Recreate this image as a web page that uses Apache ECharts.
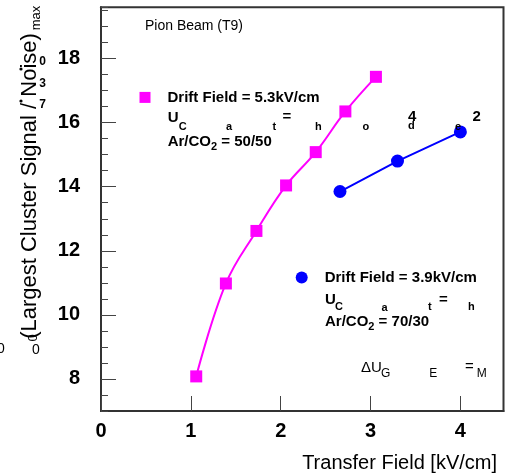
<!DOCTYPE html>
<html>
<head>
<meta charset="utf-8">
<script src="https://cdn.jsdelivr.net/npm/echarts@6/dist/echarts.min.js"></script>
<style>
  html, body { margin: 0; padding: 0; background: #fff; }
  #chart { width: 506px; height: 475px; }
</style>
</head>
<body>
<div id="chart"></div>
<script>
// Transfer field scan, two GEM configurations
const seriesNames = ['Drift Field = 5.3kV/cm', 'Drift Field = 3.9kV/cm'];
const transferA = [1.06, 1.39, 1.73, 2.06, 2.39, 2.72, 3.06];
const snrA      = [8.08, 10.98, 12.62, 14.04, 15.08, 16.35, 17.43];
const transferB = [2.66, 3.30, 4.00];
const snrB      = [13.85, 14.80, 15.71];
const yMajorTicks = [8, 10, 12, 14, 16, 18];

const FONT = '"Liberation Sans", Arial, Helvetica, sans-serif';
const chart = echarts.init(document.getElementById('chart'), null, { renderer: 'canvas' });

const measure = document.createElement('canvas').getContext('2d');
function textWidth(s, size, bold) {
  measure.font = (bold ? 'bold ' : '') + size + 'px ' + FONT;
  return measure.measureText(s).width;
}

function T(x, y, s, size, bold, align, rot) {
  return {
    type: 'text', x: x, y: y, rotation: rot || 0, z: 100,
    style: {
      text: s, fontSize: size, fontWeight: bold ? 'bold' : 'normal',
      fontFamily: FONT, fill: '#000',
      align: align || 'left', verticalAlign: 'middle'
    }
  };
}

// run of text pieces laid out left to right: [text, size, bold, dy]
function run(x, y, parts) {
  const out = [];
  let cx = x;
  parts.forEach(p => {
    out.push(T(cx, y + (p[3] || 0), p[0], p[1], p[2]));
    cx += textWidth(p[0], p[1], p[2]);
  });
  return out;
}

const texts = [].concat(
  [T(145, 26, 'Pion Beam (T9)', 14, false)],
  // first configuration block
  [
    T(167.7, 118, 'U', 15, true), T(178.8, 126.5, 'C', 11, true),
    T(226, 127, 'a', 11, true), T(272.5, 127, 't', 11, true),
    T(282.5, 117, '=', 15, true), T(315, 127, 'h', 11, true),
    T(362.5, 127, 'o', 11, true), T(408, 117, '4', 15, true),
    T(408, 126, 'd', 11, true), T(455, 127, 'e', 11, true),
    T(472.5, 117, '2', 15, true)
  ],
  run(167.7, 141.5, [['Ar/CO', 15, true], ['2', 11, true, 5.5], [' = 50/50', 15, true]]),
  // second configuration block
  [
    T(325, 300, 'U', 15, true), T(335, 307, 'C', 11, true),
    T(381.5, 307.5, 'a', 11, true), T(428, 307, 't', 11, true),
    T(439, 299.5, '=', 15, true), T(468, 307, 'h', 11, true)
  ],
  run(325, 321.7, [['Ar/CO', 15, true], ['2', 11, true, 5.5], [' = 70/30', 15, true]]),
  [
    T(361, 368, '\u0394U', 15, false), T(381, 373.5, 'G', 12, false),
    T(429.3, 374, 'E', 12, false), T(465, 366.5, '=', 15, false),
    T(476.7, 374, 'M', 12, false)
  ],
  // axis titles
  [
    T(497, 463, 'Transfer Field [kV/cm]', 20, false, 'right'),
    T(30, 186, '(Largest Cluster Signal / Noise)', 22, false, 'center', Math.PI / 2),
    T(36, 18, 'max', 13, false, 'center', Math.PI / 2),
    T(33, 338, '0', 13, false, 'center', Math.PI / 2),
    T(1, 349, '0', 14, false, 'center'),
    T(36, 350, '0', 14, false, 'center'),
    T(42.5, 62, '0', 12, true, 'center'),
    T(42.5, 84, '3', 12, true, 'center'),
    T(42.5, 105, '7', 12, true, 'center')
  ],
  [
    { type: 'circle', z: 100, shape: { cx: 21, cy: 69, r: 1.6 }, style: { fill: '#000' } },
    { type: 'circle', z: 100, shape: { cx: 21, cy: 101, r: 1.6 }, style: { fill: '#000' } }
  ]
);

const axisColor = '#333';

const option = {
  animation: false,
  backgroundColor: '#fff',
  grid: {
    left: 101, right: 2.5, top: 7.3, bottom: 64,
    show: true, borderColor: axisColor, borderWidth: 2, backgroundColor: 'transparent'
  },
  legend: [
    {
      data: [{ name: seriesNames[0], icon: 'rect' }],
      left: 139.5, top: 89.9, padding: 0, itemWidth: 11, itemHeight: 11,
      selectedMode: false,
      textStyle: { fontSize: 15, fontWeight: 'bold', fontFamily: FONT, color: '#000', padding: [0, 0, 0, 12] }
    },
    {
      data: [{ name: seriesNames[1], icon: 'circle' }],
      left: 295.7, top: 270, padding: 0, itemWidth: 12, itemHeight: 12,
      selectedMode: false,
      textStyle: { fontSize: 15, fontWeight: 'bold', fontFamily: FONT, color: '#000', padding: [0, 0, 0, 12] }
    }
  ],
  xAxis: {
    type: 'value', min: 0, max: 4.48, interval: 1,
    splitLine: { show: false },
    axisLine: { show: true, lineStyle: { color: axisColor, width: 2 } },
    axisTick: { show: true, inside: true, length: 15, lineStyle: { color: '#444', width: 1 } },
    axisLabel: {
      fontSize: 20, fontWeight: 'bold', fontFamily: FONT, color: '#000', margin: 10,
      showMaxLabel: false
    }
  },
  yAxis: [
    {
      type: 'value', min: 7, max: 19.6, interval: 0.5,
      splitLine: { show: false },
      axisLine: { show: true, lineStyle: { color: axisColor, width: 2 } },
      axisTick: { show: true, inside: true, length: 7, lineStyle: { color: '#444', width: 1 } },
      axisLabel: { show: false }
    },
    {
      type: 'value', min: 7, max: 19.6, position: 'left',
      splitLine: { show: false },
      axisLine: { show: false },
      axisTick: { show: true, inside: true, length: 15, customValues: yMajorTicks, lineStyle: { color: '#444', width: 1 } },
      axisLabel: {
        customValues: yMajorTicks,
        fontSize: 20, fontWeight: 'bold', fontFamily: FONT, color: '#000', margin: 21
      }
    }
  ],
  series: [
    {
      name: seriesNames[0], type: 'line', yAxisIndex: 0,
      data: transferA.map((x, i) => [x, snrA[i]]),
      smooth: 0.4,
      symbol: 'rect', symbolSize: 12,
      itemStyle: { color: '#ff00ff' },
      lineStyle: { color: '#ff00ff', width: 2 },
      z: 3
    },
    {
      name: seriesNames[1], type: 'line', yAxisIndex: 0,
      data: transferB.map((x, i) => [x, snrB[i]]),
      symbol: 'circle', symbolSize: 13,
      itemStyle: { color: '#0000ff' },
      lineStyle: { color: '#0000ff', width: 2 },
      z: 3
    }
  ],
  graphic: { elements: texts }
};

chart.setOption(option);
</script>
</body>
</html>
